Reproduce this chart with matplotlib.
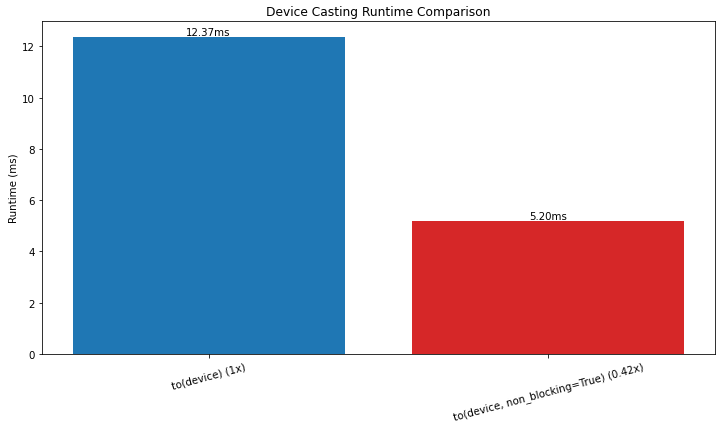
import matplotlib
matplotlib.use("Agg")
import matplotlib.pyplot as plt

methods = ["to(device) (1x)", "to(device, non_blocking=True) (0.42x)"]
runtimes = [12.37, 5.20]
colors = ["tab:blue", "tab:red"]

# reference is a 10x6 figure shrunk to 720 px wide, text a touch larger
plt.rcParams["font.size"] = 10.2

fig, ax = plt.subplots(figsize=(10, 5.972), dpi=72)
bars = ax.bar(methods, runtimes, color=colors)

for bar, val in zip(bars, runtimes):
    ax.text(bar.get_x() + bar.get_width() / 2, bar.get_height(), f"{val:.2f}ms",
            ha="center", va="bottom")

ax.set_ylabel("Runtime (ms)")
ax.set_title("Device Casting Runtime Comparison")
plt.xticks(rotation=15)
fig.subplots_adjust(left=42 / 720, right=715 / 720, top=1 - 22 / 430, bottom=1 - 355 / 430)
plt.savefig("out.png")
